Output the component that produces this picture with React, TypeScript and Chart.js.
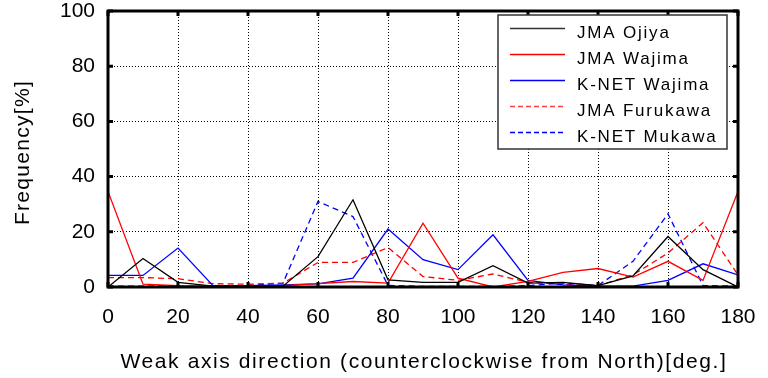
import React, { useEffect, useRef } from "react";
import { Chart, registerables } from "chart.js";

Chart.register(...registerables);

const angles = [0, 10, 20, 30, 40, 50, 60, 70, 80, 90, 100, 110, 120, 130, 140, 150, 160, 170, 180];
const jmaOjiya = [0, 10.3, 1.7, 0.3, 0.3, 0.3, 11, 31.6, 2.6, 1.7, 1.7, 7.7, 1.4, 1.7, 0.5, 4, 18.3, 6.3, 0];
const jmaWajima = [34.6, 1, 0.5, 0.3, 0.3, 0.5, 1.2, 2, 1.4, 23.1, 3.2, 0, 2, 5.3, 6.7, 3.6, 9.3, 2.4, 34.6];
const knetWajima = [4.2, 4.2, 14.1, 0.5, 0.5, 0.8, 1.1, 3.2, 21, 9.9, 6.3, 18.9, 2.4, 0.8, 0.3, 0.3, 2.4, 8.4, 4.4];
const jmaFurukawa = [3.4, 3.4, 3, 1.2, 1, 1.4, 8.9, 8.9, 14.3, 3.8, 2.4, 4.7, 1.7, 1, 0.5, 4.4, 12.3, 23.3, 4.4];
const knetMukawa = [0.3, 0.3, 0.3, 0.3, 0.5, 1.4, 31, 25.5, 0.6, 0.2, 0.2, 0.2, 0.5, 1.5, 0.5, 9.3, 26.5, 0.5, 0.3];
const seriesNames = ["JMA Ojiya", "JMA Wajima", "K-NET Wajima", "JMA Furukawa", "K-NET Mukawa"];
const seriesColors = ["#000000", "#ff0000", "#0000ff", "#ff0000", "#0000ff"];
const legendColors = ["#333333", "#ff0000", "#0000ff", "#ff4040", "#0000ff"];
const seriesDashed = [false, false, false, true, true];
const xTicks = [0, 20, 40, 60, 80, 100, 120, 140, 160, 180];
const yTicks = [0, 20, 40, 60, 80, 100];
const xTitle = "Weak axis direction (counterclockwise from North)[deg.]";
const yTitle = "Frequency[%]";

const FONT = "'Liberation Sans', Arial, sans-serif";
const DASH = [6, 4];

const framePlugin = {
  id: "frame",
  afterDatasetsDraw(chart: any) {
    const { ctx, chartArea } = chart;
    const { left, right, top, bottom } = chartArea;
    const xs = chart.scales.x;
    const ys = chart.scales.y;
    ctx.save();
    ctx.strokeStyle = "#000";
    ctx.lineWidth = 3;
    ctx.strokeRect(left, top, right - left, bottom - top);
    ctx.beginPath();
    for (const v of xTicks) {
      const px = xs.getPixelForValue(v);
      ctx.moveTo(px, bottom);
      ctx.lineTo(px, bottom - 5);
      ctx.moveTo(px, top);
      ctx.lineTo(px, top + 5);
    }
    for (const v of yTicks) {
      const py = ys.getPixelForValue(v);
      ctx.moveTo(left, py);
      ctx.lineTo(left + 5, py);
      ctx.moveTo(right, py);
      ctx.lineTo(right - 5, py);
    }
    ctx.stroke();

    // legend
    const bx = 498, by = 15, bw = 229, bh = 134;
    ctx.fillStyle = "#fff";
    ctx.fillRect(bx, by, bw, bh);
    ctx.lineWidth = 1.5;
    ctx.strokeStyle = "#333";
    ctx.strokeRect(bx, by, bw, bh);
    ctx.font = `17px ${FONT}`;
    ctx.textBaseline = "alphabetic";
    ctx.textAlign = "left";
    (ctx as any).letterSpacing = "1.8px";
    seriesNames.forEach((name, i) => {
      const y = 28.5 + i * 26;
      ctx.beginPath();
      ctx.strokeStyle = legendColors[i];
      ctx.lineWidth = 1.5;
      ctx.setLineDash(seriesDashed[i] ? [5, 3] : []);
      ctx.moveTo(510, y);
      ctx.lineTo(565, y);
      ctx.stroke();
      ctx.setLineDash([]);
      ctx.fillStyle = "#000";
      ctx.fillText(name, 577, 37.5 + i * 26);
    });

    // axis titles
    ctx.fillStyle = "#000";
    ctx.font = `21px ${FONT}`;
    ctx.textAlign = "center";
    (ctx as any).letterSpacing = "1.6px";
    ctx.fillText(xTitle, (left + right) / 2 + 1, 368);
    ctx.save();
    ctx.translate(29, 152.5);
    ctx.rotate(-Math.PI / 2);
    (ctx as any).letterSpacing = "1.3px";
    ctx.fillText(yTitle, 0, 0);
    ctx.restore();
    ctx.restore();
  },
};

export default function App() {
  const ref = useRef<HTMLCanvasElement>(null);
  useEffect(() => {
    if (!ref.current) return;
    const all = [jmaOjiya, jmaWajima, knetWajima, jmaFurukawa, knetMukawa];
    const chart = new Chart(ref.current, {
      type: "line",
      data: {
        datasets: all.map((d, i) => ({
          label: seriesNames[i],
          data: angles.map((a, j) => ({ x: a, y: d[j] })),
          borderColor: seriesColors[i],
          backgroundColor: seriesColors[i],
          borderWidth: 1.3,
          borderDash: seriesDashed[i] ? DASH : [],
          pointRadius: 0,
          tension: 0,
          fill: false,
        })),
      },
      options: {
        animation: false,
        responsive: false,
        layout: { padding: 0 },
        plugins: { legend: { display: false }, tooltip: { enabled: false } },
        scales: {
          x: {
            type: "linear",
            min: 0,
            max: 180,
            afterFit: (s: any) => { s.height = 91; s.paddingRight = 30; s.paddingLeft = 0; },
            afterBuildTicks: (s: any) => { s.ticks = xTicks.map((v) => ({ value: v })); },
            ticks: { color: "#000", font: { family: FONT, size: 21 }, padding: 18, maxRotation: 0 },
            grid: { color: "#000", lineWidth: 1, drawTicks: false },
            border: { display: false, dash: [1, 2] },
          },
          y: {
            type: "linear",
            min: 0,
            max: 100,
            afterFit: (s: any) => { s.width = 108; s.paddingTop = 11; s.paddingBottom = 0; },
            afterBuildTicks: (s: any) => { s.ticks = yTicks.map((v) => ({ value: v })); },
            ticks: { color: "#000", font: { family: FONT, size: 21 }, padding: 13 },
            grid: { color: "#000", lineWidth: 1, drawTicks: false },
            border: { display: false, dash: [1, 2] },
          },
        },
      },
      plugins: [framePlugin],
    } as any);
    return () => chart.destroy();
  }, []);
  return (
    <div style={{ position: "fixed", left: 0, top: 0, width: 768, height: 378, background: "#fff" }}>
      <canvas ref={ref} width={768} height={378} />
    </div>
  );
}
